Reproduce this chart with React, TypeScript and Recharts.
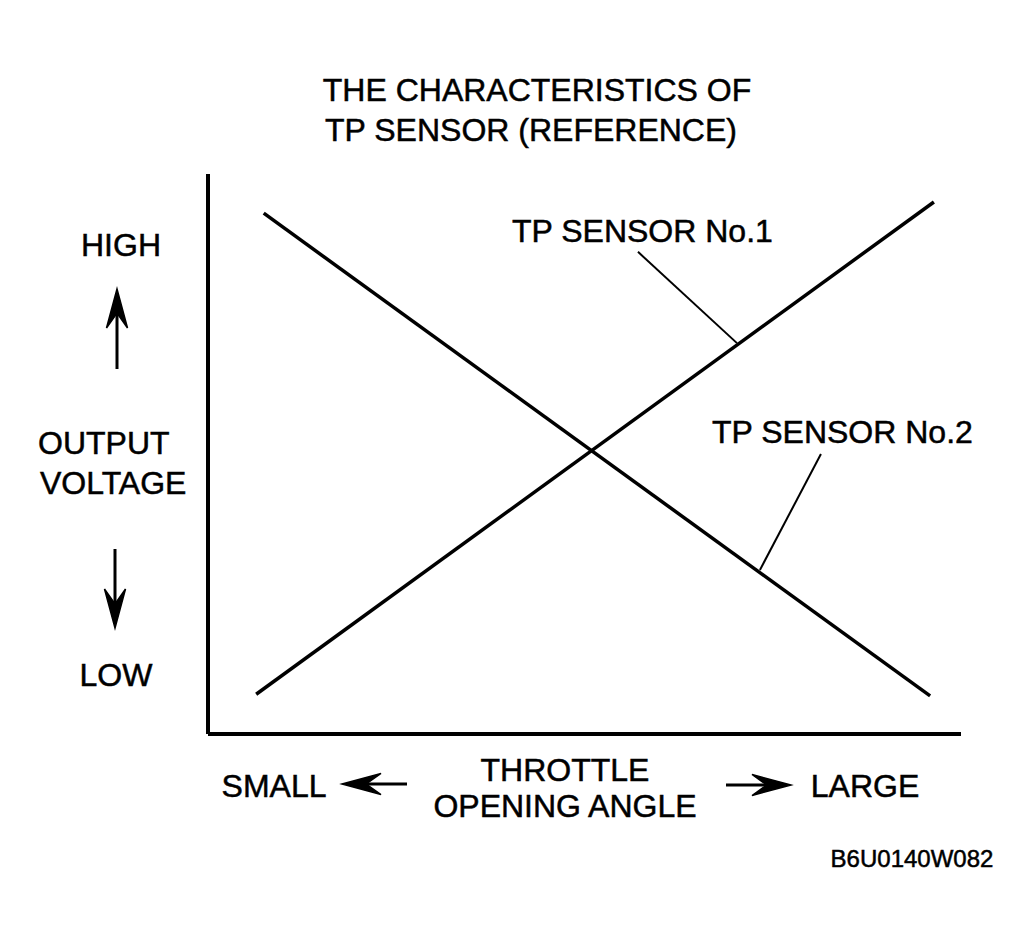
import { Line, LineChart, ReferenceLine, XAxis, YAxis } from "recharts";

// throttle opening angle (0-100 across the axis) and output voltage (0-100 up the axis)
const sensor1Angle = [6.4, 96.4];
const sensor1Volt = [7.1, 95.0];
const sensor2Angle = [7.4, 95.9];
const sensor2Volt = [93.0, 6.8];

// leader lines from the labels down to the traces
const leader1 = [
  { x: 57.1, y: 86.1 },
  { x: 70.25, y: 69.8 },
];
const leader2 = [
  { x: 81.4, y: 50.0 },
  { x: 73.3, y: 29.3 },
];

const sensor1 = sensor1Angle.map((a, i) => ({ angle: a, volt: sensor1Volt[i] }));
const sensor2 = sensor2Angle.map((a, i) => ({ angle: a, volt: sensor2Volt[i] }));

const font = "'Liberation Sans', Arial, sans-serif";

function Arrow({ x1, y1, x2, y2 }: { x1: number; y1: number; x2: number; y2: number }) {
  // tip at (x2, y2)
  const dx = x2 - x1;
  const dy = y2 - y1;
  const len = Math.hypot(dx, dy);
  const ux = dx / len;
  const uy = dy / len;
  const hl = 39;
  const hw = 10.5;
  const bx = x2 - ux * hl;
  const by = y2 - uy * hl;
  const nx = x2 - ux * (hl * 0.62);
  const ny = y2 - uy * (hl * 0.62);
  const head = `M${x2},${y2} L${bx - uy * hw},${by + ux * hw} L${nx},${ny} L${bx + uy * hw},${by - ux * hw} Z`;
  return (
    <g>
      <line x1={x1} y1={y1} x2={x2 - ux * 10} y2={y2 - uy * 10} stroke="#000" strokeWidth={3} />
      <path d={head} fill="#000" stroke="#000" strokeWidth={1.5} strokeLinejoin="miter" />
    </g>
  );
}

export default function App() {
  const textStyle = {
    fontFamily: font,
    fontSize: 32,
    fill: "#000",
    stroke: "#000",
    strokeWidth: 0.5,
  } as const;
  return (
    <div style={{ position: "absolute", left: 0, top: 0, width: 1031, height: 944, background: "#fff" }}>
      <LineChart
        width={1031}
        height={944}
        margin={{ top: 174, right: 70, bottom: 209, left: 207 }}
        style={{ position: "absolute", left: 0, top: 0 }}
      >
        <XAxis
          type="number"
          dataKey="angle"
          domain={[0, 100]}
          height={1}
          tick={false}
          tickLine={false}
          axisLine={{ stroke: "#000", strokeWidth: 4 }}
        />
        <YAxis
          type="number"
          dataKey="volt"
          domain={[0, 100]}
          width={1}
          tick={false}
          tickLine={false}
          axisLine={{ stroke: "#000", strokeWidth: 4 }}
        />
        <Line
          data={sensor1}
          dataKey="volt"
          stroke="#000"
          strokeWidth={3.5}
          dot={false}
          isAnimationActive={false}
        />
        <Line
          data={sensor2}
          dataKey="volt"
          stroke="#000"
          strokeWidth={3.5}
          dot={false}
          isAnimationActive={false}
        />
        <ReferenceLine segment={leader1} stroke="#000" strokeWidth={2} ifOverflow="visible" />
        <ReferenceLine segment={leader2} stroke="#000" strokeWidth={2} ifOverflow="visible" />
      </LineChart>
      <svg
        width={1031}
        height={944}
        style={{ position: "absolute", left: 0, top: 0, pointerEvents: "none" }}
      >
        <text x={537} y={101} textAnchor="middle" style={textStyle}>
          THE CHARACTERISTICS OF
        </text>
        <text x={531} y={141} textAnchor="middle" style={textStyle}>
          TP SENSOR (REFERENCE)
        </text>

        <text x={512} y={242} style={textStyle}>
          TP SENSOR No.1
        </text>
        <text x={712} y={443} style={textStyle}>
          TP SENSOR No.2
        </text>

        <text x={121} y={256} textAnchor="middle" style={textStyle}>
          HIGH
        </text>
        <Arrow x1={117} y1={369} x2={117} y2={289} />
        <text x={38} y={454} style={textStyle}>
          OUTPUT
        </text>
        <text x={40} y={494} style={textStyle}>
          VOLTAGE
        </text>
        <Arrow x1={115} y1={549} x2={115} y2={628} />
        <text x={116} y={686} textAnchor="middle" style={textStyle}>
          LOW
        </text>

        <text x={274} y={797} textAnchor="middle" style={textStyle}>
          SMALL
        </text>
        <Arrow x1={407} y1={784} x2={342} y2={784} />
        <text x={565} y={781} textAnchor="middle" style={textStyle}>
          THROTTLE
        </text>
        <text x={565} y={817} textAnchor="middle" style={textStyle}>
          OPENING ANGLE
        </text>
        <Arrow x1={726} y1={785} x2={791} y2={785} />
        <text x={865} y={797} textAnchor="middle" style={textStyle}>
          LARGE
        </text>

        <text x={912} y={867} textAnchor="middle" style={{ ...textStyle, fontSize: 24 }}>
          B6U0140W082
        </text>
      </svg>
    </div>
  );
}
